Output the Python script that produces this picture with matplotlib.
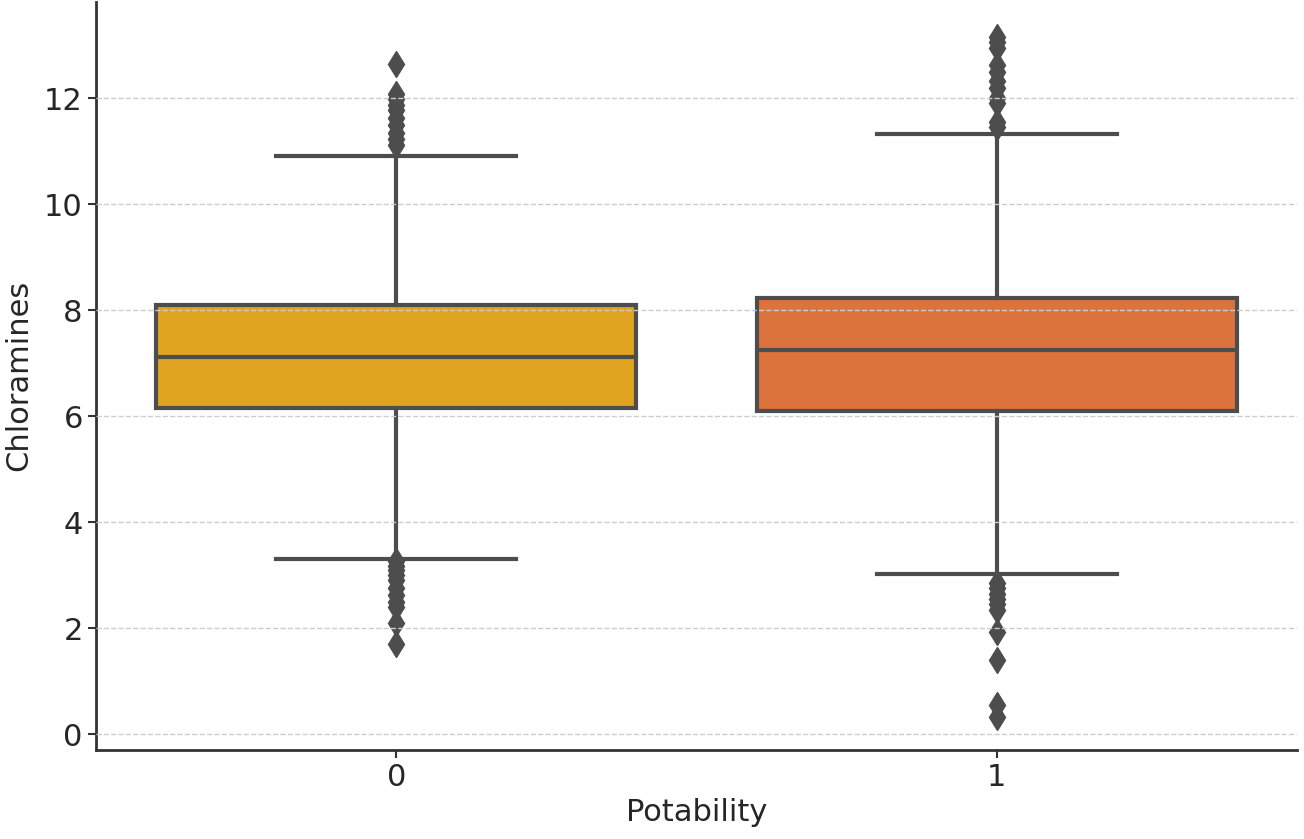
import matplotlib.pyplot as plt

# Potability groups and Chloramines summary stats
groups = ['0', '1']
medians = [7.11, 7.24]
q1s = [6.15, 6.09]
q3s = [8.09, 8.22]
whisker_lo = [3.31, 3.03]
whisker_hi = [10.91, 11.32]
fliers_0 = [12.65, 12.07, 11.98, 11.88, 11.78, 11.62, 11.5, 11.35, 11.22, 11.12,
            3.27, 3.18, 3.1, 3.0, 2.9, 2.75, 2.62, 2.5, 2.4, 2.1, 1.7]
fliers_1 = [13.15, 13.05, 12.95, 12.62, 12.5, 12.32, 12.2, 12.0, 11.9, 11.55, 11.45,
            2.85, 2.75, 2.65, 2.55, 2.45, 2.35, 1.93, 1.4, 0.55, 0.32]
box_colors = ['#DFA31F', '#DC723C']

stats = []
for i in range(len(groups)):
    stats.append({'med': medians[i], 'q1': q1s[i], 'q3': q3s[i],
                  'whislo': whisker_lo[i], 'whishi': whisker_hi[i],
                  'fliers': [fliers_0, fliers_1][i], 'label': groups[i]})

fig, ax = plt.subplots(figsize=(13.04, 8.39), dpi=100)
fig.subplots_adjust(left=0.0736, right=0.9946, bottom=0.106, top=0.998)

line_c = '#4D4D4D'
bp = ax.bxp(stats, positions=[0, 1], widths=0.8, patch_artist=True,
            boxprops=dict(edgecolor=line_c, linewidth=3),
            medianprops=dict(color=line_c, linewidth=3),
            whiskerprops=dict(color=line_c, linewidth=3),
            capprops=dict(color=line_c, linewidth=3),
            capwidths=0.4,
            flierprops=dict(marker='d', markerfacecolor=line_c, markeredgecolor=line_c,
                            markersize=13, linestyle='none'))
for patch, c in zip(bp['boxes'], box_colors):
    patch.set_facecolor(c)

ax.set_xlim(-0.5, 1.5)
ax.set_ylim(-0.3, 13.82)
ax.set_yticks([0, 2, 4, 6, 8, 10, 12])
ax.yaxis.grid(True, linestyle='--', color='#CCCCCC', linewidth=1)
ax.set_axisbelow(False)

for side in ['top', 'right']:
    ax.spines[side].set_visible(False)
for side in ['left', 'bottom']:
    ax.spines[side].set_linewidth(2)
    ax.spines[side].set_color('#333333')

ax.tick_params(labelsize=22, length=6, width=1.5, colors='#333333', labelcolor='#262626')
ax.set_xlabel('Potability', fontsize=22, color='#262626')
ax.set_ylabel('Chloramines', fontsize=22, color='#262626', labelpad=8)

plt.savefig('out.png')
